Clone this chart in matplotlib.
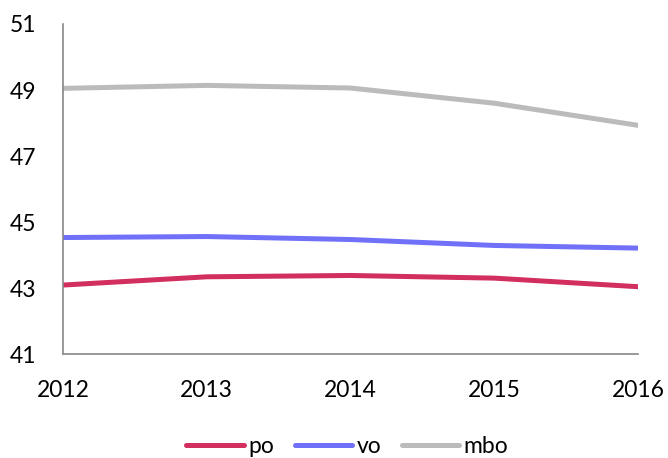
import matplotlib
matplotlib.use("Agg")
import matplotlib.pyplot as plt

years = ["2012", "2013", "2014", "2015", "2016"]
po = [43.09, 43.34, 43.38, 43.30, 43.04]
vo = [44.53, 44.56, 44.47, 44.29, 44.21]
mbo = [49.05, 49.14, 49.06, 48.60, 47.93]
yticks = [41, 43, 45, 47, 49, 51]

plt.rcParams['font.family'] = ['Lato', 'DejaVu Sans']

fig = plt.figure(figsize=(6.68, 4.58), dpi=100)
ax = fig.add_axes([0.0943, 0.227, 0.8607, 0.7206])

x = list(range(len(years)))
for vals, col, lab in [(po, '#D22E5E', 'po'), (vo, '#7070F8', 'vo'), (mbo, '#BBBBBB', 'mbo')]:
    ax.plot(x, vals, color=col, lw=3.6, solid_capstyle='round', solid_joinstyle='round', label=lab)

ax.set_xlim(0, len(years) - 1)
ax.set_ylim(41, 51)
ax.set_yticks(yticks)
ax.set_xticks(x)
ax.set_xticklabels(years)
ax.tick_params(axis='both', length=0, labelsize=16.5, colors='#000000')
ax.tick_params(axis='y', pad=19)
ax.tick_params(axis='x', pad=19)
for s in ['top', 'right']:
    ax.spines[s].set_visible(False)
for s in ['left', 'bottom']:
    ax.spines[s].set_color('#888888')
    ax.spines[s].set_linewidth(1.2)

leg = fig.legend(loc='center', bbox_to_anchor=(0.52, 0.025), ncol=3, frameon=False,
                 fontsize=16.5, handlelength=2.5, handletextpad=0.2, columnspacing=0.9)
fig.savefig("out.png", dpi=100)
